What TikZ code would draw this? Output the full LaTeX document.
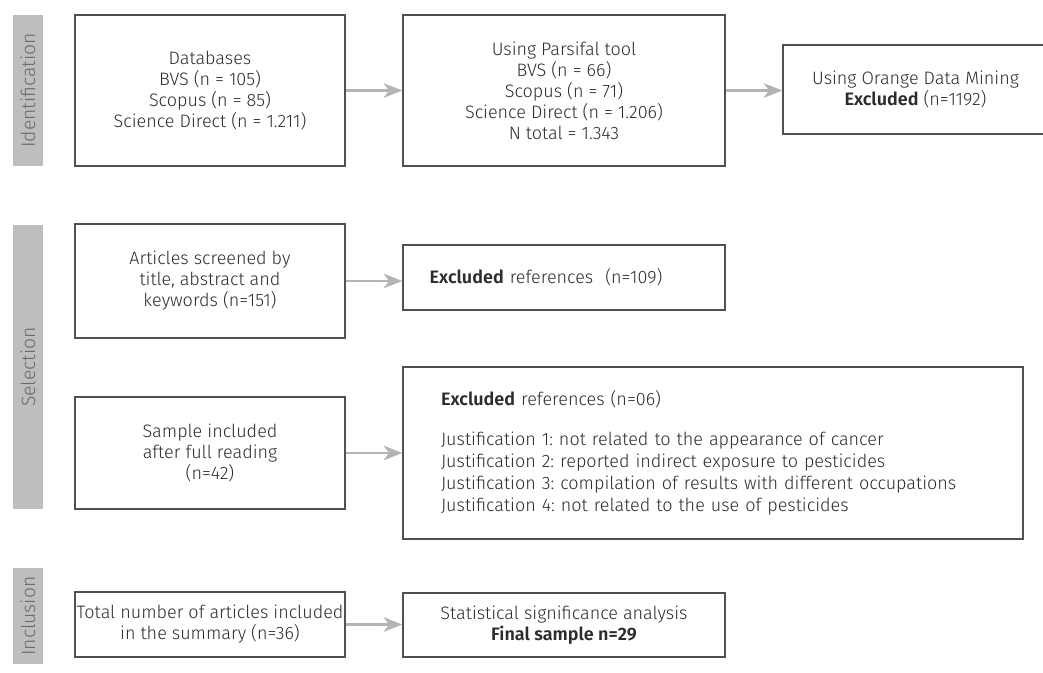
\documentclass[tikz,border=0pt]{standalone}
\usepackage{fontspec}
\setmainfont{Fira Sans}[UprightFont=* Light, BoldFont=* SemiBold]
\usetikzlibrary{arrows.meta}
\definecolor{boxc}{HTML}{505050}
\definecolor{txtc}{HTML}{2C2C2C}
\definecolor{arrc}{HTML}{B4B4B4}
\definecolor{barc}{HTML}{BEBEBE}
\definecolor{bartxt}{HTML}{6A6A6A}
\frenchspacing
\begin{document}
\begin{tikzpicture}[x=0.75pt,y=-0.75pt,
  font=\fontsize{13.5}{15.75}\selectfont,
  box/.style={draw=boxc, line width=1pt, text=txtc, align=center, inner sep=0pt},
  lbox/.style={draw=boxc, line width=1pt, text=txtc, align=left},
  bar/.style={fill=barc, text=bartxt, rotate=90, inner sep=0pt, minimum height=22.5pt,
    font=\fontsize{14.5}{16}\selectfont},
  arr/.style={draw=arrc, line width=1.7pt, -{Stealth[length=14pt,width=11pt,inset=4pt]}}
]
\useasboundingbox (0,0) rectangle (1043,673);
% side bars
\node[bar, minimum width=113.25pt] (barI) at (28,90.5) {Identification};
\node[bar, minimum width=213pt] (barS) at (28,367) {Selection};
\node[bar, minimum width=72pt] (barN) at (28,616) {Inclusion};
% identification row
\node[box, minimum width=202.5pt, minimum height=113.25pt] (b1) at (210,90.5)
  {Databases\\BVS (n = 105)\\Scopus (n = 85)\\Science Direct (n = 1.211)};
\node[box, minimum width=241.5pt, minimum height=113.25pt] (b2) at (564,90.5)
  {Using Parsifal tool\\BVS (n = 66)\\Scopus (n = 71)\\Science Direct (n = 1.206)\\N total = 1.343};
\node[box, minimum width=198.75pt, minimum height=66.75pt] (b3) at (915.5,89.5)
  {Using Orange Data Mining\\\textbf{Excluded} (n=1192)};
% selection
\node[box, minimum width=202.5pt, minimum height=85.5pt] (b4) at (210,281)
  {Articles screened by\\title, abstract and\\keywords (n=151)};
\node[lbox, inner xsep=20pt, inner ysep=0pt, text width=201.5pt, minimum height=48.75pt] (b5) at (564,277.5)
  {\raisebox{-3.4pt}{\textbf{Excluded} references~~(n=109)}};
\node[box, minimum width=202.5pt, minimum height=84pt] (b6) at (210,453)
  {Sample included\\after full reading\\(n=42)};
\node[lbox, inner xsep=28.5pt, inner ysep=0pt, text width=408pt, minimum height=129pt,
  font=\fontsize{13.5}{16.4}\selectfont] (b7) at (713,453)
  {\textbf{Excluded} references (n=06)\\[13.5pt]
   Justification 1: not related to the appearance of cancer\\
   Justification 2: reported indirect exposure to pesticides\\
   Justification 3: compilation of results with different occupations\\
   Justification 4: not related to the use of pesticides};
% inclusion
\node[box, minimum width=202.5pt, minimum height=48.75pt] (b8) at (210,624.5)
  {Total number of articles included\\in the summary (n=36)};
\node[box, minimum width=241.5pt, minimum height=48pt] (b9) at (564,625)
  {Statistical significance analysis\\\textbf{Final sample n=29}};
% arrows
\draw[arr] (b1.east) -- (b1.east -| b2.west);
\draw[arr] (b2.east) -- (b2.east -| b3.west);
\draw[arr] (b4.east) -- (b4.east -| b5.west);
\draw[arr] (b6.east) -- (b6.east -| b7.west);
\draw[arr] (b8.east) -- (b8.east -| b9.west);
\end{tikzpicture}
\end{document}
